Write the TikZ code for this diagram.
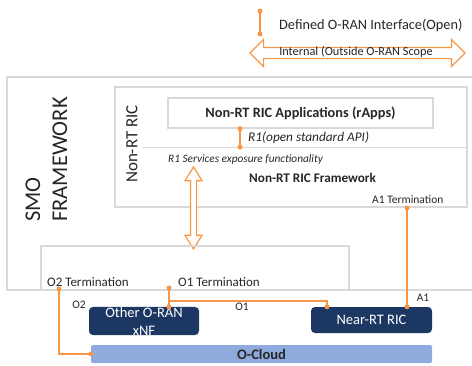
\documentclass[tikz,border=0pt]{standalone}
\usepackage{fontspec}
\setmainfont{Carlito}
\usetikzlibrary{shapes.arrows,decorations.markings}
\definecolor{orng}{RGB}{247,150,70}
\definecolor{framegray}{RGB}{217,217,217}
\definecolor{navy}{RGB}{28,56,98}
\definecolor{cloudblue}{RGB}{143,170,220}
\tikzset{
    enddot/.style={postaction={decorate, decoration={markings,
        mark=at position 1 with {\fill [orng] (0,0) circle (2.5pt);}}}},
    startdot/.style={postaction={decorate, decoration={markings,
        mark=at position 0 with {\fill [orng] (0,0) circle (2.5pt);}}}},
    iface/.style={draw=orng, line width=1.5pt, startdot, enddot},
    ifaceend/.style={draw=orng, line width=1.5pt, enddot},
    frame/.style={draw=framegray, line width=1.5pt},
    scopearrow/.style={double arrow, draw=orng, fill=white, line width=1.2pt},
    nfbox/.style={fill=navy, rounded corners=4pt, text=white,
        font=\fontsize{14.5}{18}\selectfont, align=center},
}
\begin{document}
\begin{tikzpicture}[x=1pt,y=-1pt]
        \tikzstyle{every node}+=[inner sep=0pt, text=black!85]
        \useasboundingbox (0,0) rectangle (472,365);
        % legend
        \coordinate (legtop) at (260,11);
        \coordinate (legbot) at (260,34);
        \draw [iface] (legtop) -- (legbot);
        \node [anchor=west, font=\fontsize{14.3}{16}\selectfont] (legtxt) at (279,25) {Defined O-RAN Interface(Open)};
        \node [scopearrow, minimum height=215, minimum width=26, inner sep=5pt, double arrow head extend=8pt] (legarrow) at (357.5,53) {};
        \node [font=\fontsize{12.3}{14}\selectfont] (legarrowtxt) at (356,52) {Internal (Outside O-RAN Scope};
        % SMO
        \draw [frame] (7,77) rectangle (474,290);
        \node [rotate=90, align=left, font=\fontsize{22.5}{27}\selectfont] (smotxt) at (46.5,159.5) {SMO\\FRAMEWORK};
        % Non-RT RIC
        \draw [frame] (115,87) rectangle (467,207);
        \draw [frame, line width=0.8pt] (142,147) -- (467,147);
        \node [rotate=90, font=\fontsize{17}{20}\selectfont] (nonrttxt) at (132,144) {Non-RT RIC};
        \node [frame, minimum width=265, minimum height=30, font=\bfseries\fontsize{14.3}{16}\selectfont] (rapps) at (300.5,113) {Non-RT RIC Applications (rApps)};
        \coordinate (r1) at (240,147);
        \draw [iface] (rapps.south -| r1) -- (r1);
        \node [anchor=west, font=\itshape\fontsize{13.3}{15}\selectfont] (r1txt) at (248,138) {R1(open standard API)};
        \node [anchor=west, font=\itshape\fontsize{11.3}{13}\selectfont] (r1svc) at (168,159) {R1 Services exposure functionality};
        \node [anchor=west, font=\bfseries\fontsize{13.2}{15}\selectfont] (fwtxt) at (249,178) {Non-RT RIC Framework};
        \node [anchor=west, font=\fontsize{11.5}{13}\selectfont] (a1txt) at (372,200) {A1 Termination};
        \coordinate (a1t) at (407,208);
        \node [scopearrow, rotate=90, minimum height=82, minimum width=16, inner sep=2.5pt,
            double arrow head extend=5.5pt, double arrow tip angle=64] (r1arrow) at (193.5,208) {};
        % terminations
        \draw [frame] (41,246) rectangle (349,290);
        \node [anchor=west, font=\fontsize{13}{15}\selectfont] (o2txt) at (47,282) {O2 Termination};
        \node [anchor=west, font=\fontsize{13}{15}\selectfont] (o1txt) at (178,282) {O1 Termination};
        \coordinate (o2t) at (59,289);
        \coordinate (o1t) at (169,288);
        % managed elements
        \node [nfbox, minimum width=110, minimum height=27] (xnf) at (144,321) {Other O-RAN\\xNF};
        \node [nfbox, minimum width=121, minimum height=26] (nearrt) at (371.5,320) {Near-RT RIC};
        \node [fill=cloudblue, rounded corners=2pt, minimum width=341, minimum height=18,
            font=\bfseries\fontsize{14.5}{16}\selectfont] (ocloud) at (261.5,354) {O-Cloud};
        % interfaces
        \draw [iface] (o2t) |- (ocloud.west);
        \draw [iface] (o1t) -- (o1t |- xnf.north);
        \coordinate (o1b) at (169,301);
        \draw [ifaceend] (o1b) -| ([xshift=-44.5]nearrt.north);
        \draw [iface] (a1t) -- (a1t |- nearrt.north);
        \node [font=\fontsize{11.5}{13}\selectfont] (o2lbl) at (79,305) {O2};
        \node [font=\fontsize{11.5}{13}\selectfont] (o1lbl) at (242,307) {O1};
        \node [font=\fontsize{11.5}{13}\selectfont] (a1lbl) at (423,298) {A1};
\end{tikzpicture}
\end{document}
